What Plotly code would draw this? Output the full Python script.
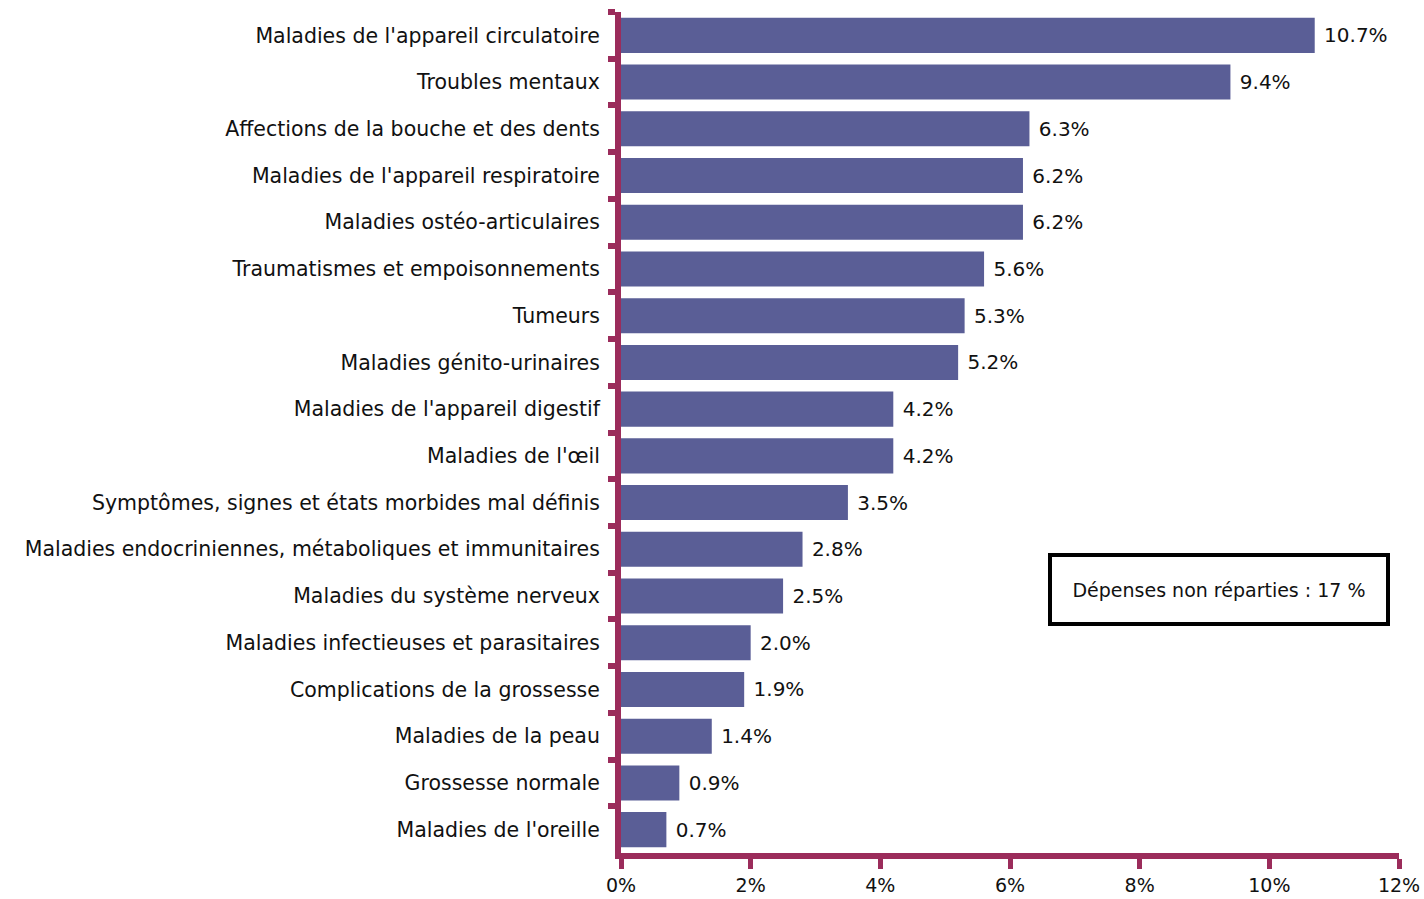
import plotly.graph_objects as go

categories = [
    "Maladies de l'appareil circulatoire",
    "Troubles mentaux",
    "Affections de la bouche et des dents",
    "Maladies de l'appareil respiratoire",
    "Maladies ostéo-articulaires",
    "Traumatismes et empoisonnements",
    "Tumeurs",
    "Maladies génito-urinaires",
    "Maladies de l'appareil digestif",
    "Maladies de l'œil",
    "Symptômes, signes et états morbides mal définis",
    "Maladies endocriniennes, métaboliques et immunitaires",
    "Maladies du système nerveux",
    "Maladies infectieuses et parasitaires",
    "Complications de la grossesse",
    "Maladies de la peau",
    "Grossesse normale",
    "Maladies de l'oreille",
]
shares = [10.7, 9.4, 6.3, 6.2, 6.2, 5.6, 5.3, 5.2, 4.2, 4.2, 3.5, 2.8, 2.5, 2.0, 1.9, 1.4, 0.9, 0.7]
x_ticks = [0, 2, 4, 6, 8, 10, 12]
x_tick_labels = ["0%", "2%", "4%", "6%", "8%", "10%", "12%"]
note_text = "Dépenses non réparties : 17 %"

BAR = "#5a5e96"
AXIS = "#9b2c5b"
FONT = "DejaVu Sans, Liberation Sans, sans-serif"

# figure geometry (pixels)
W, H = 1424, 899
ML, MR, MT, MB = 621, 25, 12, 46
PW, PH = W - ML - MR, H - MT - MB

fig = go.Figure(
    go.Bar(
        x=shares,
        y=categories,
        orientation="h",
        marker=dict(color=BAR, line=dict(width=0)),
        text=[f" {v:.1f}%" for v in shares],
        textposition="outside",
        textfont=dict(family=FONT, size=20, color="#111111"),
        cliponaxis=False,
        width=0.75,
    )
)

fig.update_layout(
    width=W,
    height=H,
    margin=dict(l=ML, r=MR, t=MT, b=MB, autoexpand=False),
    paper_bgcolor="white",
    plot_bgcolor="white",
    showlegend=False,
    font=dict(family=FONT, size=20, color="#111111"),
)

fig.update_xaxes(
    range=[0, 12],
    tickvals=x_ticks,
    ticktext=x_tick_labels,
    automargin=False,
    showgrid=False,
    zeroline=False,
    showline=True,
    linecolor=AXIS,
    linewidth=6,
    ticks="outside",
    ticklen=10,
    tickwidth=5,
    tickcolor=AXIS,
    ticklabelstandoff=0,
    tickfont=dict(family=FONT, size=19, color="#111111"),
)

fig.update_yaxes(
    autorange="reversed",
    automargin=False,
    showgrid=False,
    zeroline=False,
    showline=True,
    linecolor=AXIS,
    linewidth=6,
    ticks="outside",
    tickson="boundaries",
    ticklen=7,
    tickwidth=6,
    tickcolor=AXIS,
    ticklabelstandoff=11,
    tickfont=dict(family=FONT, size=20.5, color="#111111"),
)

# boxed note: centre of the frame in pixels, converted to paper fractions
box_cx, box_cy = 1219, 589.5
fig.add_annotation(
    x=(box_cx - ML) / PW,
    y=1 - (box_cy - MT) / PH,
    xref="paper",
    yref="paper",
    xanchor="center",
    yanchor="middle",
    text=note_text,
    showarrow=False,
    font=dict(family=FONT, size=19, color="#111111"),
    bordercolor="#000000",
    borderwidth=4,
    borderpad=0,
    bgcolor="white",
    width=334,
    height=65,
)

fig.write_html("out.html")
